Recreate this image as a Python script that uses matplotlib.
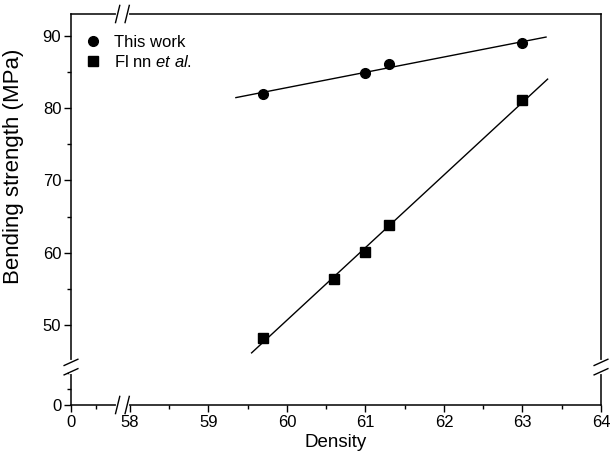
import numpy as np
import matplotlib
matplotlib.use("Agg")
import matplotlib.pyplot as plt

plt.rcParams['font.family'] = ['Liberation Sans', 'DejaVu Sans']
plt.rcParams['mathtext.fontset'] = 'custom'
plt.rcParams['mathtext.it'] = 'Liberation Sans:italic'
plt.rcParams['mathtext.rm'] = 'Liberation Sans'

# Data
this_density = [59.7, 61.0, 61.3, 63.0]
this_strength = [82.0, 84.9, 86.1, 89.0]
flinn_density = [59.7, 60.6, 61.0, 61.3, 63.0]
flinn_strength = [48.2, 56.4, 60.1, 63.8, 81.1]
this_fit_range = [59.35, 63.3]
flinn_fit_range = [59.55, 63.32]

x_major = [0, 58, 59, 60, 61, 62, 63, 64]
x_minor = [25, 58.5, 59.5, 60.5, 61.5, 62.5, 63.5]
y_major = [0, 50, 60, 70, 80, 90]
y_minor = [10, 20, 55, 65, 75, 85]

# broken-axis scales (piecewise linear)
XP = [0.0, 58.0]
XQ = [57.25, 58.0]
YP = [0.0, 25.0, 45.0]
YQ = [38.93, 44.465, 45.0]

def make_pw(P, Q):
    k0 = (Q[1] - Q[0]) / (P[1] - P[0])
    def fwd(v):
        v = np.asarray(v, dtype=float)
        mid = np.interp(v, P, Q)
        low = Q[0] + (v - P[0]) * k0
        return np.where(v >= P[-1], v - P[-1] + Q[-1], np.where(v < P[0], low, mid))
    def inv(u):
        u = np.asarray(u, dtype=float)
        mid = np.interp(u, Q, P)
        low = P[0] + (u - Q[0]) / k0
        return np.where(u >= Q[-1], u - Q[-1] + P[-1], np.where(u < Q[0], low, mid))
    return fwd, inv

fx, fx_inv = make_pw(XP, XQ)
fy, fy_inv = make_pw(YP, YQ)

fig = plt.figure(figsize=(6.14, 4.67), dpi=100)
ax = fig.add_axes([71/614, 1 - 405/467, 530/614, 391/467])
ax.set_xscale('function', functions=(fx, fx_inv))
ax.set_yscale('function', functions=(fy, fy_inv))
ax.set_xlim(0, 64)
ax.set_ylim(0, 93.04)

# fits
p1 = np.polyfit(this_density, this_strength, 1)
p2 = np.polyfit(flinn_density, flinn_strength, 1)
xx1 = np.array(this_fit_range)
xx2 = np.array(flinn_fit_range)
ax.plot(xx1, np.polyval(p1, xx1), color='black', lw=1.0)
ax.plot(xx2, np.polyval(p2, xx2), color='black', lw=1.0)

ax.plot(this_density, this_strength, 'o', color='black', ms=7, ls='none', label='This work')
ax.plot(flinn_density, flinn_strength, 's', color='black', ms=6.5, ls='none', label=r'Fl nn $\mathit{et\ al.}$')

ax.set_xticks(x_major)
ax.set_xticks(x_minor, minor=True)
ax.set_xticklabels([str(v) for v in x_major])
ax.set_yticks(y_major)
ax.set_yticks(y_minor, minor=True)
ax.set_yticklabels([str(v) for v in y_major])
ax.tick_params(which='major', direction='out', length=5, width=1, labelsize=12, pad=2)
ax.tick_params(which='minor', direction='out', length=3, width=1)
for s in ax.spines.values():
    s.set_linewidth(1.1)

ax.set_xlabel('Density', fontsize=13.5, labelpad=3)
ax.set_ylabel('Bending strength (MPa)', fontsize=16)
ax.yaxis.set_label_coords(-0.088, 0.61)

leg = ax.legend(loc='upper left', frameon=False, fontsize=12, handlelength=0.8,
                handletextpad=0.9, borderaxespad=0.4, labelspacing=0.25,
                bbox_to_anchor=(0.003, 0.98))

# break marks
def xbreak(xc, yc):
    d = 0.009
    ax.plot([xc - d, xc + d], [yc, yc], transform=ax.transAxes, color='white', lw=3, clip_on=False, zorder=5)
    for off in (-d, d):
        ax.plot([xc + off - 0.004, xc + off + 0.004], [yc - 0.022, yc + 0.022], transform=ax.transAxes,
                color='black', lw=1.0, clip_on=False, zorder=6)

def ybreak(xc, yc):
    d = 0.012
    ax.plot([xc, xc], [yc - d, yc + d], transform=ax.transAxes, color='white', lw=3, clip_on=False, zorder=5)
    for off in (-d, d):
        ax.plot([xc - 0.013, xc + 0.013], [yc + off - 0.008, yc + off + 0.008], transform=ax.transAxes,
                color='black', lw=1.0, clip_on=False, zorder=6)

xbreak(0.097, 0.0)
xbreak(0.097, 1.0)
ybreak(0.0, 0.097)
ybreak(1.0, 0.097)

fig.savefig('out.png', dpi=100)
